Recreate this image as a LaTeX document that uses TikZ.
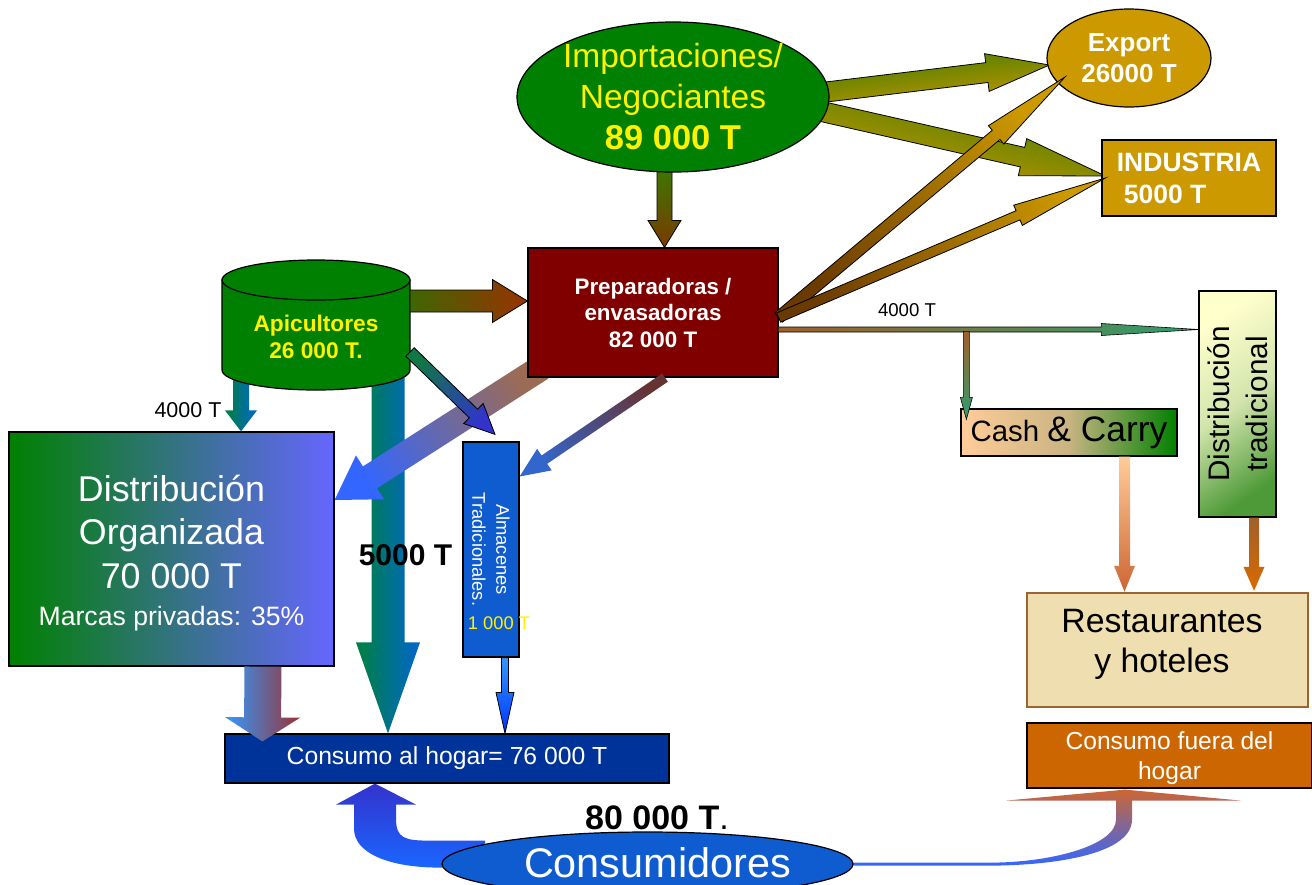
\documentclass[tikz,border=0pt]{standalone}
\usepackage{fontspec}
\setmainfont{Liberation Sans}
\usetikzlibrary{shapes.geometric,calc,backgrounds}

\definecolor{cLeaf}{HTML}{008000}
\definecolor{cWine}{HTML}{800000}
\definecolor{cGold}{HTML}{CC9900}
\definecolor{cViolet}{HTML}{6666FF}
\definecolor{cNavy}{HTML}{003399}
\definecolor{cRoyal}{HTML}{0F5BD0}
\definecolor{cPeach}{HTML}{FFCC99}
\definecolor{cTan}{HTML}{C8B482}
\definecolor{cCream}{HTML}{FFFFCC}
\definecolor{cSage}{HTML}{D2E4AC}
\definecolor{cFern}{HTML}{4E9A38}
\definecolor{cWheat}{HTML}{EFDFB0}
\definecolor{cBark}{HTML}{996633}
\definecolor{cRust}{HTML}{CC6600}
\definecolor{cOlive}{HTML}{3A7A00}
\definecolor{cBrown}{HTML}{7A3A00}
\definecolor{cUmber}{HTML}{6B3A00}
\definecolor{cMoss}{HTML}{3F6600}
\definecolor{cBrick}{HTML}{993300}
\definecolor{cTeal}{HTML}{117744}
\definecolor{cIndigo}{HTML}{3333CC}
\definecolor{cJade}{HTML}{008040}
\definecolor{cAzure}{HTML}{0066CC}
\definecolor{cMauve}{HTML}{9C6B55}
\definecolor{cCobalt}{HTML}{3366FF}
\definecolor{cPlum}{HTML}{663333}
\definecolor{cSteel}{HTML}{3366CC}
\definecolor{cSky}{HTML}{3399FF}
\definecolor{cCrimson}{HTML}{993333}
\definecolor{cBlue}{HTML}{0033FF}
\definecolor{cCopper}{HTML}{CC6633}
\definecolor{cSea}{HTML}{2E9E6E}
\definecolor{cOchre}{HTML}{A0602A}
\definecolor{cOrange}{HTML}{D96A00}
\definecolor{cBright}{HTML}{1A66FF}

\newcommand{\fsz}[2]{\fontsize{#1}{#2}\selectfont}

% fat arrow: [opts]{from}{to}{shaft half}{head half}{head length}{tail colour}{head colour}
\NewDocumentCommand{\fatarrow}{O{}mmmmmmm}{%
\coordinate (fa1) at (#2);%
\coordinate (fa2) at (#3);%
\pgfmathanglebetweenpoints{\pgfpointanchor{fa1}{center}}{\pgfpointanchor{fa2}{center}}%
\let\faraw\pgfmathresult
\pgfmathsetmacro{\faang}{\faraw-90}%
\coordinate (fah) at ($(fa2)!#6pt!(fa1)$);%
\path[bottom color=#7, top color=#8, shading angle=\faang, #1]
  ($(fa1)!#4pt!90:(fa2)$) -- ($(fah)!#4pt!90:(fa2)$) -- ($(fah)!#5pt!90:(fa2)$) -- (fa2)
  -- ($(fah)!#5pt!-90:(fa2)$) -- ($(fah)!#4pt!-90:(fa2)$) -- ($(fa1)!#4pt!-90:(fa2)$) -- cycle;%
}

\tikzset{
  box/.style={draw, line width=1.2pt, inner sep=0pt, align=center},
  rim/.style={draw, line width=0.8pt}
}

\begin{document}
\begin{tikzpicture}[x=1pt, y=-1pt]
\useasboundingbox (0,0) rectangle (1312,884);

% importaciones, export, industria
\node[ellipse, draw, line width=1.2pt, fill=cLeaf, minimum width=312pt, minimum height=150pt] (imp) at (673,97) {};
\node[text=yellow, align=center, font=\fsz{33.5}{41}] (impt) at (imp) {Importaciones/\\Negociantes\\{\bfseries\fsz{34.5}{41}89 000 T}};
\node[ellipse, draw, line width=1.2pt, fill=cGold, minimum width=164pt, minimum height=98pt] (expo) at (1129,58) {};
\node[text=white, align=center, font=\bfseries\fsz{26}{31}] (expot) at (expo) {Export\\26000 T};
\node[box, fill=cGold, minimum width=174pt, minimum height=76pt, text=white, align=left, font=\bfseries\fsz{26.5}{32}] (ind) at (1189,178) {INDUSTRIA\\\hspace*{7pt}5000 T};

% preparadoras
\node[box, fill=cWine, minimum width=250pt, minimum height=129pt, text=white, font=\bfseries\fsz{22.4}{26.5}] (prep) at (653,312.5) {Preparadoras /\\envasadoras\\82 000 T};

% apicultores
\path[draw, line width=1.2pt, fill=cLeaf] (222,280) -- (222,370) arc[start angle=180, end angle=360, x radius=94pt, y radius=20pt] -- (410,280) -- cycle;
\path[draw, line width=1.2pt, fill=cLeaf] (316,280) ellipse[x radius=94pt, y radius=20pt];
\node[text=yellow, align=center, font=\bfseries\fsz{22.7}{27}] (apic) at (316,337) {Apicultores\\26 000 T.};

% distribucion y consumo
\node[box, left color=cLeaf, right color=cViolet, minimum width=325pt, minimum height=234pt] (dorg) at (171.5,549) {};
\node[text=white, align=center, font=\fsz{35.8}{43.5}] (dorgt) at (171.5,553) {Distribución\\Organizada\\70 000 T\\[-6pt]{\fsz{26.6}{37}Marcas privadas: 35\%}};
\node[box, fill=cRoyal, minimum width=56pt, minimum height=215pt] (alm) at (491,549.5) {};
\node[rotate=-90, text=white, align=center, font=\fsz{18.3}{24}] (almt) at (alm) {Almacenes\\Tradicionales.};
\node[box, fill=cNavy, minimum width=444pt, minimum height=49pt, text=white, font=\fsz{24.7}{30}] (hogar) at (447,758.5) {Consumo al hogar= 76 000 T};

% canal horeca
\node[box, left color=cPeach, right color=cLeaf, middle color=cTan, minimum width=216pt, minimum height=47pt] (cash) at (1069,432.5) {{\fsz{29.4}{35}Cash }{\fsz{35.4}{40}\& Carry}};
\node[box, top color=cCream, bottom color=cFern, middle color=cSage, shading angle=35, minimum width=77pt, minimum height=226pt] (dtrad) at (1237.5,404) {};
\node[rotate=90, align=center, font=\fsz{29.7}{38}] (dtradt) at (dtrad) {Distribución\\tradicional};
\node[box, draw=cBark, line width=2.5pt, fill=cWheat, minimum width=281pt, minimum height=114pt] (rest) at (1167.5,650) {};
\node[align=center, font=\fsz{33.8}{40}] (restt) at (1162,644) {Restaurantes\\y hoteles};
\node[box, fill=cRust, minimum width=285pt, minimum height=65pt] (fuera) at (1169.5,755.5) {};
\node[text=white, align=center, font=\fsz{24.6}{30}] (fuerat) at (1169.5,758) {Consumo fuera del\\hogar};

% flechas detras
\begin{pgfonlayer}{background}
\fatarrow[rim]{$(imp.south)+(-8.5,-8)$}{$(prep.north)+(11.5,0)$}{7.5}{16.5}{27}{cOlive}{cBrown}
\fatarrow[rim, bottom color=cGold, top color=cOlive, shading angle=7]{$(imp.center)+(120,-1)$}{$(expo.west)+(3,7)$}{10}{19}{63}{cGold}{cOlive}
\fatarrow[rim, bottom color=cGold, top color=cOlive, shading angle=-13]{$(imp.center)+(120,8)$}{$(ind.west)+(4,-2)$}{10}{19}{85}{cGold}{cOlive}
\fatarrow[left color=cJade, right color=cAzure]{$(apic)+(-75,40)$}{$(dorg.north)+(69.5,0)$}{8}{16}{21}{cJade}{cAzure}
\fatarrow[left color=cJade, right color=cAzure]{$(apic)+(72,40)$}{$(hogar.north)+(-59,0)$}{16.5}{32}{91}{cJade}{cAzure}
\fatarrow{$(prep.south west)+(14,-10)$}{$(dorg.east)+(0,-49)$}{13}{26}{42}{cMauve}{cCobalt}
\path[top color=cIndigo, bottom color=cBright] ($(hogar.south)+(-72,0)$) -- ++(41,21) -- ++(-20,0) -- ++(0,14) .. controls +(0,20) and +(-25,0) .. ++(34,22) -- ++(55,0) -- ++(0,27) -- ++(-45,0) .. controls +(-50,0) and +(0,25) .. ++(-86,-39) -- ++(0,-24) -- ++(-18,0) -- cycle;
\path[top color=cCopper, bottom color=cCobalt] ($(fuera.south)+(-44.5,1)$) -- ++(116,11) -- ++(-109,0) -- ++(0,19) .. controls +(0,32) and +(70,-1) .. ++(-137,46) -- ++(-155,0) -- ++(0,-3) -- ++(155,0) .. controls +(60,-1) and +(0,25) .. ++(121,-43) -- ++(0,-19) -- ++(-110,0) -- cycle;
\end{pgfonlayer}

% flechas delante
\fatarrow[rim]{$(apic)+(94,-36)$}{$(prep.west)+(0,-11.5)$}{11}{21.5}{35}{cMoss}{cBrick}
\fatarrow[rim]{$(apic)+(94,15)$}{$(alm.north)+(4,-7)$}{6}{14}{30}{cTeal}{cIndigo}
\fatarrow[rim]{$(prep.east)+(0,5)$}{$(expo.center)+(-64,19)$}{6}{12}{90}{cUmber}{cGold}
\fatarrow[rim]{$(prep.east)+(0,5)$}{$(ind.west)+(4,0)$}{5}{11}{95}{cUmber}{cGold}
\fatarrow[draw, line width=0.6pt]{$(prep.east)+(0,17)$}{$(dtrad.west)+(0,-74.5)$}{2.5}{6}{97}{cOchre}{cSea}
\coordinate (br) at ($(cash.north west)+(6,-77)$);
\fatarrow[draw, line width=0.6pt]{br}{$(cash.north west)+(6,11)$}{3}{6}{22}{cOchre}{cSea}
\fatarrow{$(prep.south)+(12,0)$}{$(alm.east)+(0,-73)$}{5}{13}{30}{cPlum}{cSteel}
\fatarrow[left color=cSky, right color=cCrimson]{$(dorg.south)+(91.5,0)$}{$(hogar.north west)+(38,8)$}{18.5}{37.5}{24}{cSky}{cCrimson}
\fatarrow[rim]{$(alm.south)+(14,0)$}{$(hogar.north)+(58,0)$}{3.5}{9}{41}{cSky}{cBlue}
\fatarrow{$(cash.south)+(55.5,0)$}{$(rest.north)+(-43,0)$}{5.5}{10.5}{26}{cPeach}{cCopper}
\fatarrow{$(dtrad.south)+(16.5,0)$}{$(rest.north)+(86.5,-1)$}{5}{10.5}{24}{cOchre}{cOrange}

% consumidores y cifras
\node[ellipse, draw, line width=1.2pt, fill=cRoyal, minimum width=411pt, minimum height=64pt, inner sep=0pt] (consu) at (647.5,864) {};
\node[anchor=base, text=white, font=\fsz{41.4}{48}] (consut) at (657.5,877) {Consumidores};
\node[text=yellow, font=\fsz{18.3}{22}] (almv) at (499,623) {1 000 T};
\node[font=\fsz{21.5}{25}] (lbl4a) at (188,410) {4000 T};
\node[font=\bfseries\fsz{30}{34}] (lbl5) at (405.5,555) {5000 T};
\node[font=\fsz{18.6}{22}] (lbl4b) at (907,310) {4000 T};
\node[font=\fsz{34}{40}] (lbl80) at (657,818) {\textbf{80 000 T}.};
\end{tikzpicture}
\end{document}
